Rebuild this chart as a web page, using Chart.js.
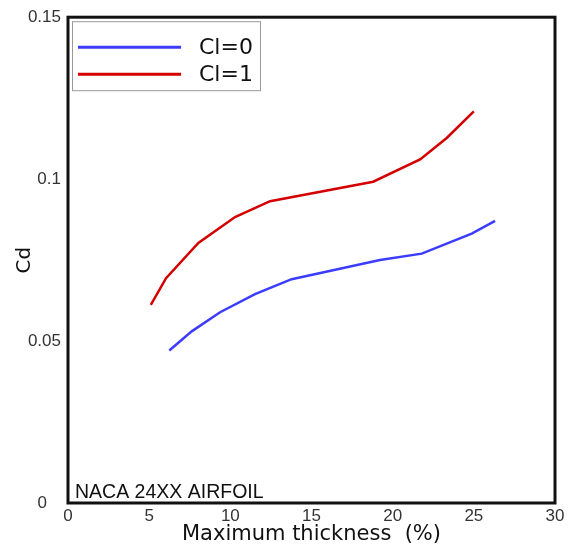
<!DOCTYPE html>
<html>
<head>
<meta charset="utf-8">
<script src="https://cdn.jsdelivr.net/npm/chart.js@4.4.1/dist/chart.umd.min.js"></script>
<style>
    html, body { margin: 0; padding: 0; background: #fff; }
    #wrap { width: 570px; height: 547px; }
</style>
</head>
<body>
<div id="wrap"><canvas id="chart" width="570" height="547"></canvas></div>
<script>
// drag coefficient vs maximum thickness, NACA 24XX

const thicknessCl0 = [6.24, 7.62, 9.37, 11.52, 13.78, 19.22, 21.79, 24.87, 26.31];
const cdCl0 = [0.0471, 0.0530, 0.0589, 0.0645, 0.0691, 0.0750, 0.0770, 0.0832, 0.0871];

const thicknessCl1 = [5.10, 6.04, 8.03, 10.29, 12.45, 18.8, 21.69, 23.33, 25.0];
const cdCl1 = [0.0612, 0.0694, 0.0803, 0.0883, 0.0932, 0.0992, 0.1061, 0.1127, 0.1209];

const seriesLabels = ["Cl=0", "Cl=1"];
const seriesColors = ["#3c3cff", "#d40000"];
const yTickLabels = ["0   ", "0.05", "0.1", "0.15"];
const note = "NACA 24XX AIRFOIL";

function toPoints(xs, ys) {
    var pts = [];
    for (var i = 0; i < xs.length; i++) pts.push({ x: xs[i], y: ys[i] });
    return pts;
}

// frame, legend box and note inside the plot
const framePlugin = {
    id: "frame",
    afterDraw(chart) {
        let ctx = chart.ctx;
        let a = chart.chartArea;
        ctx.save();
        ctx.strokeStyle = "#111";
        ctx.lineWidth = 3;
        ctx.strokeRect(a.left, a.top, a.right - a.left, a.bottom - a.top);

        // legend
        let lx = a.left + 4, ly = a.top + 4;
        ctx.lineWidth = 1;
        ctx.strokeStyle = "#999";
        ctx.fillStyle = "#fff";
        ctx.fillRect(lx, ly, 188, 69);
        ctx.strokeRect(lx + 0.5, ly + 0.5, 188, 69);
        ctx.font = "22px 'DejaVu Sans', sans-serif";
        ctx.textBaseline = "middle";
        ctx.textAlign = "left";
        chart.data.datasets.forEach(function (ds, i) {
            let y = ly + 26 + i * 27;
            ctx.strokeStyle = ds.borderColor;
            ctx.lineWidth = 3;
            ctx.beginPath();
            ctx.moveTo(lx + 6, y);
            ctx.lineTo(lx + 109, y);
            ctx.stroke();
            ctx.fillStyle = "#111";
            ctx.fillText(ds.label, lx + 127, y + 1);
        });

        ctx.font = "19.5px 'Liberation Sans', Arial, sans-serif";
        ctx.fillStyle = "#111";
        ctx.textBaseline = "alphabetic";
        ctx.fillText(note, a.left + 7, a.bottom - 5);
        ctx.restore();
    }
};

let data = {
    datasets: [
        {
            label: seriesLabels[0],
            data: toPoints(thicknessCl0, cdCl0),
            borderColor: seriesColors[0],
            borderWidth: 2.5,
            pointRadius: 0,
            tension: 0
        },
        {
            label: seriesLabels[1],
            data: toPoints(thicknessCl1, cdCl1),
            borderColor: seriesColors[1],
            borderWidth: 2.5,
            pointRadius: 0,
            tension: 0
        }
    ]
};

let options = {
    responsive: false,
    animation: false,
    layout: { padding: { top: 14, right: 15, left: 0, bottom: 0 } },
    scales: {
        x: {
            type: "linear",
            min: 0,
            max: 30,
            grid: { display: false, drawTicks: false },
            border: { display: false },
            ticks: {
                stepSize: 5,
                padding: 3,
                color: "#333",
                font: { family: "'Liberation Sans', Arial, sans-serif", size: 17 }
            },
            title: {
                display: true,
                text: "Maximum thickness  (%)",
                color: "#111",
                padding: { top: 0, bottom: 0 },
                font: { family: "'DejaVu Sans', sans-serif", size: 21 }
            },
            afterFit: function (scale) { scale.height = 44; }
        },
        y: {
            min: 0,
            max: 0.15,
            grid: { display: false, drawTicks: false },
            border: { display: false },
            ticks: {
                stepSize: 0.05,
                padding: 7,
                color: "#333",
                font: { family: "'Liberation Sans', Arial, sans-serif", size: 17 },
                callback: function (value, index) { return yTickLabels[index]; }
            },
            title: {
                display: true,
                text: "Cd",
                color: "#111",
                padding: { top: 13, bottom: 0 },
                font: { family: "'DejaVu Sans', sans-serif", size: 20 }
            },
            afterFit: function (scale) { scale.width = 68; }
        }
    },
    plugins: {
        legend: { display: false },
        tooltip: { enabled: false }
    }
};

new Chart(document.getElementById("chart"), {
    type: "line",
    data: data,
    options: options,
    plugins: [framePlugin]
});
</script>
</body>
</html>
